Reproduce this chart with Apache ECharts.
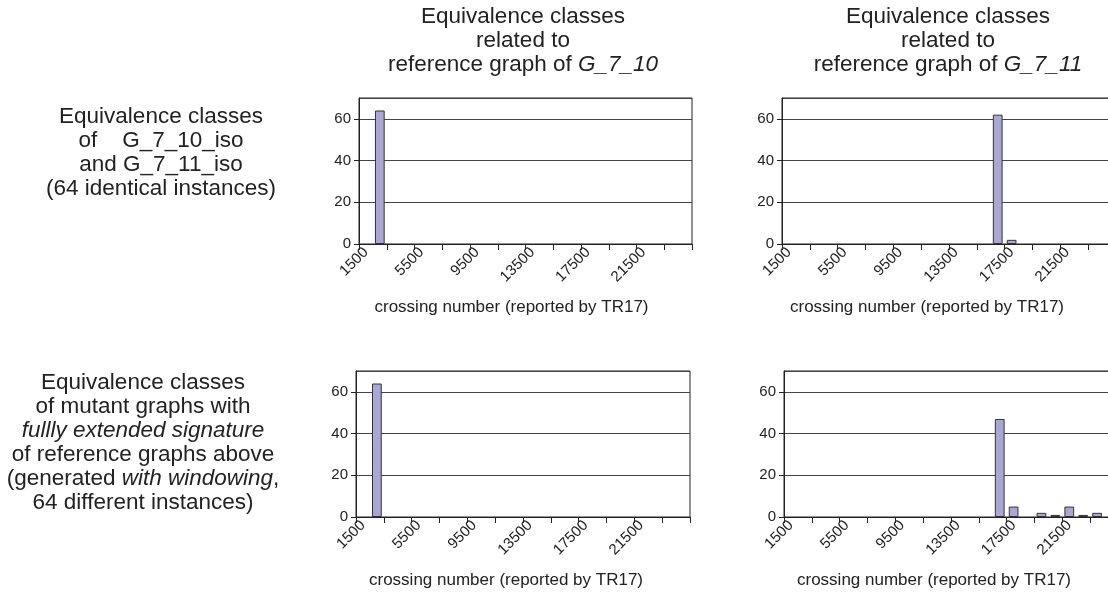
<!DOCTYPE html>
<html>
<head>
<meta charset="utf-8">
<script src="https://cdn.jsdelivr.net/npm/echarts@6/dist/echarts.min.js"></script>
<style>
html,body{margin:0;padding:0;background:#fff;overflow:hidden;width:1108px;height:592px;}
#c{width:1124px;height:592px;}
</style>
</head>
<body>
<div id="c"></div>
<script>
// crossing number bins (reported by TR17)
const categories = ['1500','2500','3500','4500','5500','6500','7500','8500','9500','10500','11500','12500',
  '13500','14500','15500','16500','17500','18500','19500','20500','21500','22500','23500','24500'];
// counts of instances per bin
const isoRefG710     = [0,64,0,0,0,0,0,0,0,0,0,0,0,0,0,0,0,0,0,0,0,0,0,0];
const isoRefG711     = [0,0,0,0,0,0,0,0,0,0,0,0,0,0,0,62,2,0,0,0,0,0,0,0];
const mutantRefG710  = [0,64,0,0,0,0,0,0,0,0,0,0,0,0,0,0,0,0,0,0,0,0,0,0];
const mutantRefG711  = [0,0,0,0,0,0,0,0,0,0,0,0,0,0,0,47,5,0,2,1,5,1,2,0];
const yTicks = [0,20,40,60];
const axisName = 'crossing number (reported by TR17)';

const FONT = "'Liberation Sans', Arial, Helvetica, sans-serif";
const TXT = '#222';
const seriesData = [isoRefG710, isoRefG711, mutantRefG710, mutantRefG711];
// layout: container is 1124 wide, visible viewport 1108 (right charts run past the edge)
const grids = [
  {left: 359, top: 98, width: 333, height: 146},
  {left: 782, top: 98, width: 334, height: 146},
  {left: 356, top: 371, width: 334, height: 146},
  {left: 784, top: 371, width: 334, height: 146}
];
const nameShift = [28, 44, 34, 34];

const big = {fontSize: 22.5, fontFamily: FONT, color: TXT, lineHeight: 24};
const bigI = Object.assign({}, big, {fontStyle: 'italic'});
function title(text, x, y) {
  return {
    text: text, left: x, top: y, textAlign: 'center', padding: 0,
    textStyle: {fontSize: 22.5, fontWeight: 'normal', fontFamily: FONT, color: TXT, lineHeight: 24,
      rich: {n: big, i: bigI}}
  };
}

const option = {
  animation: false,
  backgroundColor: '#fff',
  title: [
    title('{n|Equivalence classes}\n{n|related to}\n{n|reference graph of }{i|G_7_10}', 523, 5),
    title('{n|Equivalence classes}\n{n|related to}\n{n|reference graph of }{i|G_7_11}', 948, 5),
    title('{n|Equivalence classes}\n{n|of    G_7_10_iso}\n{n|and G_7_11_iso}\n{n|(64 identical instances)}', 161, 105),
    title('{n|Equivalence classes}\n{n|of mutant graphs with}\n{i|fullly extended signature}\n{n|of reference graphs above}\n{n|(generated }{i|with windowing}{n|,}\n{n|64 different instances)}', 143, 371)
  ],
  grid: grids.map(g => Object.assign({show: true, borderColor: '#222', borderWidth: 1, backgroundColor: 'transparent'}, g)),
  xAxis: grids.map((g, i) => ({
    type: 'category', gridIndex: i, data: categories, boundaryGap: true,
    name: axisName, nameLocation: 'middle', nameGap: 55,
    nameTextStyle: {fontSize: 17, color: TXT, fontFamily: FONT, padding: [0, nameShift[i], 0, 0]},
    axisLine: {lineStyle: {color: '#222', width: 1}},
    axisTick: {show: true, interval: 1, length: 6, lineStyle: {color: '#222'}},
    axisLabel: {interval: 3, rotate: 45, fontSize: 15, color: TXT, fontFamily: FONT, margin: 6},
    splitLine: {show: false}
  })),
  yAxis: grids.map((g, i) => ({
    type: 'value', gridIndex: i, min: 0, max: 70, interval: 20,
    axisLine: {show: true, lineStyle: {color: '#222', width: 1}},
    axisTick: {show: true, length: 5, inside: false, lineStyle: {color: '#222'}},
    axisLabel: {fontSize: 15, color: TXT, fontFamily: FONT, margin: 8, showMaxLabel: false,
      formatter: v => (yTicks.indexOf(v) >= 0 ? String(v) : '')},
    splitLine: {show: true, lineStyle: {color: '#444', width: 1}}
  })),
  series: seriesData.map((d, i) => ({
    type: 'bar', xAxisIndex: i, yAxisIndex: i, data: d.map(v => (v === 0 ? '-' : v)), barWidth: '70%',
    itemStyle: {color: '#aaa7d4', borderColor: '#333', borderWidth: 1}
  }))
};

const chart = echarts.init(document.getElementById('c'), null, {renderer: 'canvas'});
chart.setOption(option);
</script>
</body>
</html>
